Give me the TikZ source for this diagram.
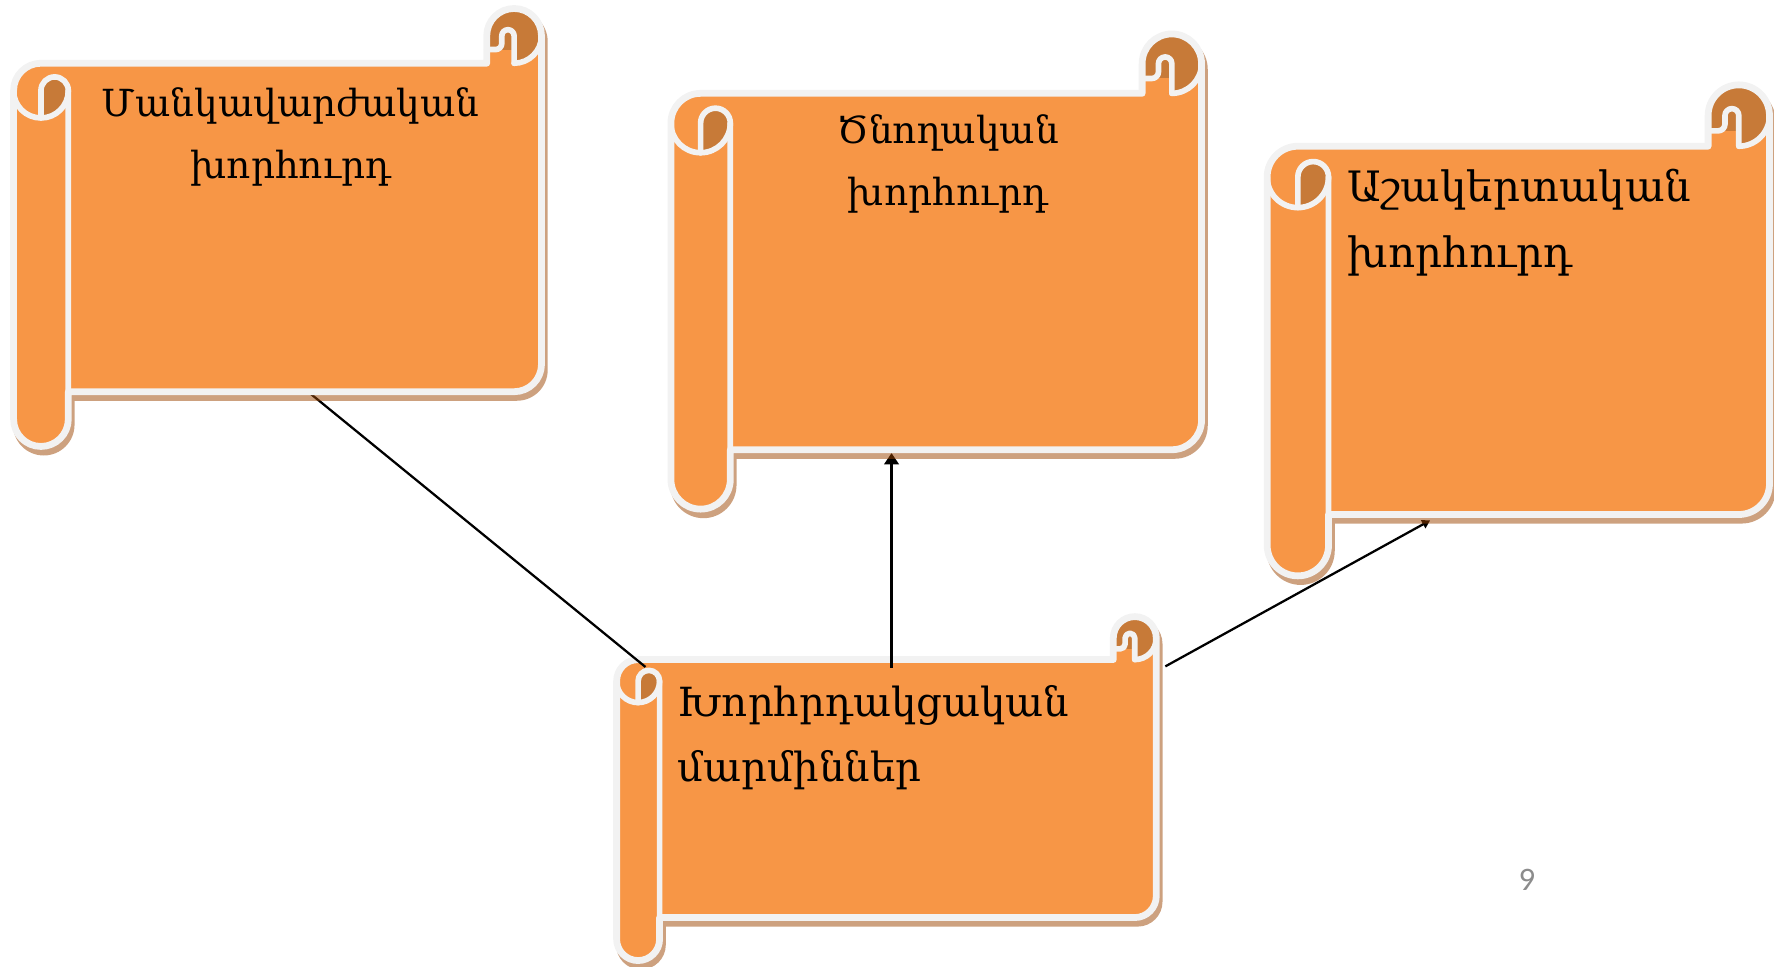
\documentclass[tikz,border=0pt]{standalone}
\usepackage{fontspec}
\setmainfont{DejaVu Serif}
\newfontfamily\numfont{Carlito}
\usetikzlibrary{arrows.meta}
\definecolor{scrollfill}{HTML}{F79646}
\definecolor{scrolldark}{HTML}{C77A38}
\definecolor{scrolledge}{HTML}{F2F2F2}
\definecolor{scrollshadow}{RGB}{155,67,0}
\definecolor{pagegray}{HTML}{8C8C8C}

\newcommand{\scrolloutline}[1]{%
  (\scR+#1,\scT+\scH) -- (\scR+#1,\scYB-\scH)
  arc[start angle=0,end angle=90,radius=\scH+#1]
  -- (\scL+\scC+#1,\scYB+#1) -- (\scL+\scC+#1,\scB-\scH)
  arc[start angle=0,end angle=180,radius=\scH+#1]
  -- (\scL-#1,\scYT+\scH)
  arc[start angle=180,end angle=270,radius=\scH+#1]
  -- (\scR-\scC-#1,\scYT-#1) -- (\scR-\scC-#1,\scT+\scH)
  arc[start angle=180,end angle=360,radius=\scH+#1] -- cycle}

\newcommand{\scrollshape}[4]{%
  \pgfmathsetmacro{\scL}{#1}\pgfmathsetmacro{\scT}{#2}%
  \pgfmathsetmacro{\scR}{#3}\pgfmathsetmacro{\scB}{#4}%
  \pgfmathsetmacro{\scC}{0.125*min(#3-#1,#4-#2)}%
  \pgfmathsetmacro{\scH}{\scC/2}\pgfmathsetmacro{\scQ}{\scC/4}%
  \pgfmathsetmacro{\scS}{\scQ*0.45}%
  \pgfmathsetmacro{\scYT}{\scT+\scC}\pgfmathsetmacro{\scYB}{\scB-\scC}%
  \fill[scrollshadow, opacity=0.5, shift={(2.5,5)}] \scrolloutline{3};
  \fill[scrollfill] \scrolloutline{0};
  % right curl
  \fill[scrolldark] (\scR-\scH,\scT+\scH) circle[radius=\scH];
  \fill[scrolldark] (\scR-\scC,\scT+\scH) rectangle (\scR-\scH,\scT+\scH+\scQ);
  \fill[scrollfill] (\scR-\scC,\scT+\scH+\scQ) rectangle (\scR-\scH,\scYT);
  % left curl
  \fill[scrolldark] (\scL+\scH,\scYT+\scH) -- (\scL+\scH,\scYT+\scC)
     arc[start angle=90,end angle=0,radius=\scH]
     arc[start angle=0,end angle=-180,radius=\scQ] -- cycle;
  % white lines
  \draw[edgeline] \scrolloutline{0};
  \draw[innerline] (\scR,\scT+\scH) arc[start angle=0,end angle=90,radius=\scH];
  \draw[innerline] (\scR-\scC,\scT+\scH+\scQ) -- (\scR-\scH-3*\scS,\scT+\scH+\scQ)
     arc[start angle=90,end angle=0,radius=\scS]
     -- (\scR-\scH-2*\scS,\scT+\scH)
     arc[start angle=180,end angle=360,radius=\scS] -- (\scR-\scH,\scYT);
  \draw[innerline] (\scL,\scYT+\scH) arc[start angle=180,end angle=0,radius=\scH];
  \draw[innerline] (\scL+\scH,\scYT+\scC) -- (\scL+\scH,\scYT+\scH)
     arc[start angle=180,end angle=360,radius=\scQ] -- (\scL+\scC,\scYB);
}

\tikzset{
  edgeline/.style={draw=scrolledge, line width=6, line join=round},
  innerline/.style={draw=scrolledge, line width=5, line join=round, line cap=round},
  connector/.style={draw=black, line width=2},
  scrolltext/.style={inner sep=0pt, font=\fontsize{33}{55}\selectfont, text=black},
  bigscrolltext/.style={inner sep=0pt, font=\fontsize{37}{58}\selectfont, text=black}
}

\begin{document}
\begin{tikzpicture}[x=1pt,y=-1pt]
\useasboundingbox (0,0) rectangle (1568,854);

% bottom scroll first
\scrollshape{545}{545}{1022}{849}

% connector end points
\coordinate (s1bot) at (272,346);
\coordinate (s4curl) at (570.5,589.5);
\coordinate (s4top) at (788,590);
\coordinate (s2bot) at (788,400.5);
\coordinate (s4right) at (1030,589);
\coordinate (s3bot) at (1264,460);

\draw[connector] (s1bot) -- (s4curl);
\draw[connector, -{Triangle[length=10pt,width=13pt]}] (s4top) -- (s2bot);
\draw[connector, -{Triangle[length=7pt,width=8pt]}] (s4right) -- (s3bot);

\scrollshape{12}{7.5}{478.6}{394.6}
\scrollshape{593}{30}{1062}{450}
\scrollshape{1120}{75}{1564}{509}

\node[scrolltext, align=center] (t1) at (257,121) {Մանկավարժական\\խորհուրդ};
\node[scrolltext, align=center] (t2) at (838,145) {Ծնողական\\խորհուրդ};
\node[bigscrolltext, align=left, anchor=west] (t3) at (1191,197) {Աշակերտական\\խորհուրդ};
\node[scrolltext, font=\fontsize{35.5}{57}\selectfont, align=left, anchor=west] (t4) at (599,652) {Խորհրդակցական\\մարմիններ};

\node[inner sep=0pt, text=pagegray, font=\numfont\fontsize{29}{30}\selectfont] (pnum) at (1349.6,777.8) {9};
\end{tikzpicture}
\end{document}
